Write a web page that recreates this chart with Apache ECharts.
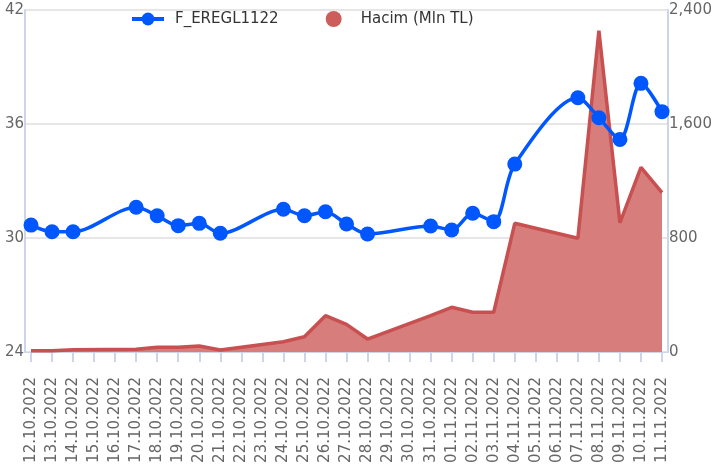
<!DOCTYPE html>
<html>
<head>
<meta charset="utf-8">
<script src="https://cdn.jsdelivr.net/npm/echarts@6/dist/echarts.min.js"></script>
<style>html,body{margin:0;padding:0;background:#fff;font-family:'DejaVu Sans'}#c{width:715px;height:474px}</style>
</head>
<body>
<div id="c"></div>
<script>
const categories = ['12.10.2022','13.10.2022','14.10.2022','15.10.2022','16.10.2022','17.10.2022','18.10.2022','19.10.2022','20.10.2022','21.10.2022','22.10.2022','23.10.2022','24.10.2022','25.10.2022','26.10.2022','27.10.2022','28.10.2022','29.10.2022','30.10.2022','31.10.2022','01.11.2022','02.11.2022','03.11.2022','04.11.2022','05.11.2022','06.11.2022','07.11.2022','08.11.2022','09.11.2022','10.11.2022','11.11.2022'];
const priceSeries = [30.68, 30.33, 30.33, null, null, 31.62, 31.17, 30.65, 30.77, 30.25, null, null, 31.51, 31.17, 31.38, 30.74, 30.21, null, null, 30.63, 30.42, 31.30, 30.86, 33.89, null, null, 37.38, 36.33, 35.19, 38.14, 36.65];
const volumeSeries = [8, 8, 16, null, null, 19, 33, 33, 42, 14, null, null, 72, 107, 255, 194, 91, null, null, 256, 314, 279, 279, 903, null, null, 798, 2255, 907, 1296, 1118];
const leftTicks = {min: 24, max: 42, interval: 6};
const rightTicks = {min: 0, max: 2400, interval: 800};
const priceName = 'F_EREGL1122';
const volumeName = 'Hacim (Mln TL)';

const FONT = '"DejaVu Sans", sans-serif';
const chart = echarts.init(document.getElementById('c'), null, {renderer: 'canvas'});
chart.setOption({
  animation: false,
  backgroundColor: '#fff',
  textStyle: {fontFamily: FONT},
  legend: {
    left: 125, top: 6,
    itemWidth: 32, itemHeight: 16, itemGap: 47,
    textStyle: {fontFamily: FONT, fontSize: 15, color: '#333', padding: [0, 0, 0, 6]},
    data: [
      {name: priceName, lineStyle: {width: 4, color: '#0057ff'}},
      {name: volumeName, icon: 'circle'}
    ]
  },
  grid: [
    {left: 31, right: 53, top: 10, bottom: 122, containLabel: false},
    {left: 25, right: 47, top: 10, bottom: 122, containLabel: false}
  ],
  xAxis: [
    {
      type: 'category', gridIndex: 0, data: categories, boundaryGap: false,
      axisLine: {show: false},
      axisTick: {show: true, alignWithLabel: true, interval: 0, length: 10, lineStyle: {color: '#ccd6eb', width: 2}},
      axisLabel: {interval: 0, rotate: 90, margin: 25, fontFamily: FONT, fontSize: 15, color: '#666'},
      splitLine: {show: false}
    },
    {
      type: 'value', gridIndex: 1, min: 0, max: 1,
      axisLine: {show: true, lineStyle: {color: '#ccd6eb', width: 1}},
      axisTick: {show: false}, axisLabel: {show: false}, splitLine: {show: false}
    }
  ],
  yAxis: [
    {type: 'value', gridIndex: 0, position: 'left', min: leftTicks.min, max: leftTicks.max, interval: leftTicks.interval, show: false},
    {type: 'value', gridIndex: 0, position: 'right', min: rightTicks.min, max: rightTicks.max, interval: rightTicks.interval, show: false},
    {
      type: 'value', gridIndex: 1, position: 'left', min: leftTicks.min, max: leftTicks.max, interval: leftTicks.interval,
      axisLine: {show: true, lineStyle: {color: '#ccd6eb', width: 2}},
      axisTick: {show: false},
      axisLabel: {margin: 1, fontFamily: FONT, fontSize: 15, color: '#666'},
      splitLine: {show: true, lineStyle: {color: '#e6e6e6', width: 2}}
    },
    {
      type: 'value', gridIndex: 1, position: 'right', min: rightTicks.min, max: rightTicks.max, interval: rightTicks.interval,
      axisLine: {show: true, lineStyle: {color: '#ccd6eb', width: 2}},
      axisTick: {show: false},
      axisLabel: {margin: 1, fontFamily: FONT, fontSize: 15, color: '#666', formatter: v => v.toLocaleString('en-US')},
      splitLine: {show: false}
    }
  ],
  series: [
    {
      name: volumeName, type: 'line', xAxisIndex: 0, yAxisIndex: 1, data: volumeSeries,
      connectNulls: true, smooth: false, showSymbol: false, symbol: 'circle',
      lineStyle: {color: '#c85050', width: 3.5},
      itemStyle: {color: '#cd5c5c'},
      areaStyle: {color: '#d77d7b', opacity: 1},
      z: 3
    },
    {
      name: priceName, type: 'line', xAxisIndex: 0, yAxisIndex: 0, data: priceSeries,
      connectNulls: true, smooth: 0.3, symbol: 'circle', symbolSize: 15, showSymbol: true,
      lineStyle: {color: '#0057ff', width: 3.5},
      itemStyle: {color: '#0057ff'},
      z: 4
    }
  ]
});
</script>
</body>
</html>
